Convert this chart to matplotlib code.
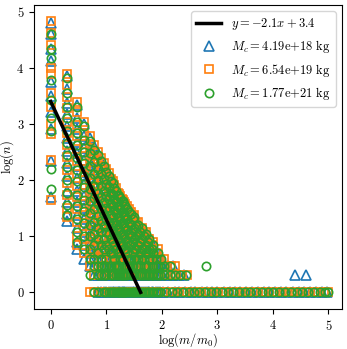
import numpy as np
import matplotlib
matplotlib.use('Agg')
import matplotlib.pyplot as plt

plt.rcParams['mathtext.fontset'] = 'cm'
plt.rcParams['font.family'] = 'DejaVu Serif'

# mass columns (in units of m0) that hold several counts per series
col_masses = [1, 2, 3, 4, 5, 6, 7, 8, 9, 10, 12, 14, 16, 19, 22, 26, 30, 35, 41, 48, 56, 66, 78, 92]

tri_counts = [
    [63000, 40000, 22000, 13000, 5600, 3200, 1600, 800, 220, 50],
    [7000, 4200, 2400, 1500, 900, 560, 330, 200, 120, 65, 40, 25, 19],
    [2200, 1300, 800, 480, 300, 180, 110, 65, 40, 24, 14, 8, 6],
    [1000, 600, 380, 230, 140, 85, 52, 32, 20, 12, 7, 4],
    [560, 340, 210, 130, 80, 50, 30, 18, 11, 7, 4, 3],
    [400, 240, 150, 90, 55, 34, 21, 13, 8, 5, 3, 2],
    [300, 180, 110, 70, 42, 26, 16, 10, 6, 4, 2, 1],
    [240, 145, 90, 55, 34, 21, 13, 8, 5, 3, 2, 1],
    [190, 115, 72, 44, 27, 17, 10, 6, 4, 2, 1],
    [150, 92, 57, 35, 22, 13, 8, 5, 3, 2, 1],
    [110, 70, 44, 28, 17, 11, 7, 4, 3, 2, 1],
    [78, 50, 32, 20, 13, 8, 5, 3, 2, 1],
    [58, 37, 24, 15, 10, 6, 4, 2, 1],
    [44, 28, 18, 12, 7, 5, 3, 2, 1],
    [36, 23, 15, 10, 6, 4, 2, 1],
    [28, 18, 12, 8, 5, 3, 2, 1],
    [21, 14, 9, 6, 4, 2, 1],
    [16, 11, 7, 5, 3, 2, 1],
    [12, 8, 6, 4, 2, 1],
    [10, 7, 5, 3, 2, 1],
    [8, 6, 4, 3, 2, 1],
    [6, 4, 3, 2, 1],
    [5, 3, 2, 1],
    [4, 3, 2, 1],
]

sq_counts = [
    [68000, 42000, 25000, 10000, 7800, 3600, 2000, 1000, 650, 230, 45],
    [7600, 5000, 3000, 1900, 1100, 700, 420, 260, 150, 90, 55, 32, 22],
    [2500, 1600, 950, 600, 360, 220, 130, 80, 50, 30, 18, 10, 7],
    [1100, 700, 440, 270, 160, 100, 60, 38, 24, 15, 9, 5],
    [600, 380, 240, 150, 90, 55, 34, 21, 13, 8, 5, 3, 1],
    [430, 270, 170, 100, 62, 38, 24, 15, 9, 6, 4, 2, 1],
    [320, 200, 125, 78, 48, 30, 18, 11, 7, 5, 3, 2],
    [250, 160, 100, 62, 38, 24, 15, 9, 6, 4, 3, 1],
    [200, 125, 78, 48, 30, 19, 12, 7, 5, 3, 2],
    [160, 100, 62, 38, 24, 15, 9, 6, 4, 2, 1],
    [105, 66, 42, 26, 16, 10, 6, 4, 2, 1],
    [82, 52, 33, 21, 14, 9, 6, 4, 2, 1],
    [60, 39, 25, 16, 10, 7, 4, 3, 1],
    [46, 30, 19, 12, 8, 5, 3, 2, 1],
    [38, 25, 16, 10, 7, 4, 3, 1],
    [30, 20, 13, 8, 5, 3, 2, 1],
    [22, 15, 10, 7, 4, 3, 1],
    [17, 12, 8, 5, 3, 2, 1],
    [13, 9, 6, 4, 3, 1],
    [11, 7, 5, 3, 2, 1],
    [9, 6, 4, 3, 2, 1],
    [7, 5, 3, 2, 1],
    [5, 4, 2, 1],
    [4, 2, 1],
]

circ_counts = [
    [40000, 22000, 15000, 6000, 2700, 1300, 750, 160, 70],
    [6500, 3600, 2000, 1250, 750, 450, 280, 170, 100, 60, 36, 24],
    [2000, 1100, 700, 420, 250, 150, 95, 55, 34, 20, 12, 8],
    [900, 520, 320, 200, 120, 75, 45, 28, 17, 10, 6],
    [500, 300, 180, 110, 70, 42, 26, 16, 10, 6, 4, 2],
    [350, 210, 130, 80, 48, 30, 18, 11, 7, 4, 3, 1],
    [280, 160, 100, 60, 37, 23, 14, 9, 5, 3, 2, 1],
    [220, 130, 80, 50, 30, 19, 12, 7, 4, 3, 2],
    [175, 105, 65, 40, 25, 15, 9, 6, 3, 2, 1],
    [140, 85, 52, 32, 20, 12, 7, 4, 3, 2, 1],
    [95, 60, 38, 24, 15, 9, 5, 3, 2, 1],
    [72, 46, 29, 18, 11, 7, 4, 3, 1],
    [54, 34, 22, 14, 9, 5, 3, 2, 1],
    [42, 27, 17, 11, 7, 4, 2, 1],
    [34, 22, 14, 9, 6, 3, 2, 1],
    [27, 17, 11, 7, 4, 3, 1],
    [20, 13, 8, 5, 3, 2, 1],
    [15, 10, 6, 4, 3, 1],
    [12, 8, 5, 3, 2, 1],
    [10, 6, 4, 3, 2, 1],
    [8, 5, 3, 2, 1],
    [6, 4, 2, 1],
    [4, 3, 2, 1],
    [3, 2, 1],
]

# in-between mass columns, fewer snapshots each
mid_masses = [11, 13, 15, 17, 18, 20, 21, 24, 28, 32, 38, 44, 51, 60, 70, 84]

tri_mid = [
    [128, 80, 48, 30, 19, 12, 6, 3, 1],
    [92, 58, 36, 23, 14, 9, 5, 2, 1],
    [68, 43, 27, 17, 11, 7, 4, 2, 1],
    [55, 34, 21, 14, 9, 5, 3, 1],
    [50, 31, 20, 13, 8, 4, 2, 1],
    [42, 26, 17, 11, 7, 4, 2, 1],
    [40, 25, 16, 10, 6, 3, 1],
    [32, 21, 13, 9, 5, 3, 1],
    [26, 17, 11, 7, 4, 2, 1],
    [23, 15, 10, 6, 4, 2, 1],
    [17, 11, 7, 5, 3, 1],
    [13, 9, 6, 4, 2, 1],
    [11, 8, 5, 3, 2, 1],
    [9, 6, 4, 3, 1],
    [7, 5, 3, 2, 1],
    [5, 4, 3, 2, 1],
]

sq_mid = [
    [135, 85, 52, 33, 20, 13, 7, 4, 2, 1],
    [96, 61, 38, 24, 15, 10, 6, 3, 1],
    [72, 46, 29, 18, 12, 7, 4, 2, 1],
    [57, 36, 23, 15, 9, 6, 3, 2, 1],
    [52, 33, 21, 13, 8, 5, 3, 1],
    [44, 28, 18, 12, 7, 4, 2, 1],
    [41, 26, 17, 11, 7, 4, 2, 1],
    [34, 22, 14, 9, 6, 3, 2, 1],
    [27, 18, 12, 8, 5, 3, 1],
    [24, 16, 10, 7, 4, 2, 1],
    [18, 12, 8, 5, 3, 2, 1],
    [14, 10, 6, 4, 3, 1],
    [12, 8, 5, 4, 2, 1],
    [9, 7, 5, 3, 2, 1],
    [8, 5, 4, 2, 1],
    [6, 4, 3, 2, 1],
]

circ_mid = [
    [120, 75, 46, 29, 18, 11, 6, 3, 1],
    [88, 55, 34, 22, 13, 8, 5, 2, 1],
    [64, 41, 26, 16, 10, 6, 3, 2, 1],
    [53, 33, 21, 13, 8, 5, 3, 1],
    [48, 30, 19, 12, 7, 4, 2, 1],
    [43, 27, 17, 11, 7, 4, 2, 1],
    [38, 24, 15, 10, 6, 3, 1],
    [31, 20, 13, 8, 5, 3, 2, 1],
    [25, 16, 10, 7, 4, 2, 1],
    [22, 14, 9, 6, 4, 2, 1],
    [16, 11, 7, 4, 3, 1],
    [14, 9, 6, 4, 2, 1],
    [11, 7, 5, 3, 2, 1],
    [9, 6, 4, 2, 1],
    [7, 5, 3, 2, 1],
    [5, 3, 2, 1],
]

# large masses with small counts
tri_tail_m = [100, 100, 130, 160, 105, 135, 160, 200, 250, 25000, 40000]
tri_tail_n = [4, 3, 3, 3, 2, 2, 2, 2, 2, 2, 2]
sq_tail_m = [110, 115, 145, 175, 120, 150, 180, 230, 290]
sq_tail_n = [4, 3, 3, 3, 2, 2, 2, 2, 2]
circ_tail_m = [95, 110, 140, 620, 110, 140, 170, 210, 270]
circ_tail_n = [4, 3, 3, 3, 2, 2, 2, 2, 2]

# masses seen exactly once
tri_ones = [105, 130, 170, 200, 260, 330, 400, 520, 650, 800, 1000, 1300, 1700, 2100, 2600,
            3300, 4200, 5400, 6800, 8500, 11000, 14000, 17500, 23000, 30000, 37000, 47000,
            60000, 75000, 96000]
sq_ones = [115, 145, 185, 230, 290, 360, 460, 580, 720, 900, 1150, 1450, 1850, 2300, 2900,
           3700, 4700, 6000, 7600, 9600, 12000, 15500, 19500, 25000, 32000, 41000, 52000,
           66000, 84000, 100000]
circ_ones = [120, 155, 190, 240, 310, 380, 470, 610, 760, 950, 1200, 1550, 1950, 2450, 3100,
             3900, 5000, 6300, 8000, 10000, 13000, 16500, 21000, 27000, 34000, 43000, 55000,
             70000, 88000, 98000]

fit_slope = -2.1
fit_icpt = 3.4

labels = [r'$M_c = 4.19\mathrm{e}{+}18\ \mathrm{kg}$',
          r'$M_c = 6.54\mathrm{e}{+}19\ \mathrm{kg}$',
          r'$M_c = 1.77\mathrm{e}{+}21\ \mathrm{kg}$']


def gather(counts, mid, tail_m, tail_n, ones):
    m, n = [], []
    for masses, cols in ((col_masses, counts), (mid_masses, mid)):
        for mass, cs in zip(masses, cols):
            for c in cs:
                m.append(mass)
                n.append(c)
    m += tail_m + ones
    n += tail_n + [1] * len(ones)
    return np.log10(m), np.log10(n)


fig = plt.figure(figsize=(3.47, 3.49), dpi=100)
ax = fig.add_axes([0.098, 0.114, 0.887, 0.872])

fx = np.array([0, -fit_icpt / fit_slope])
ax.plot(fx, fit_slope * fx + fit_icpt, color='k', lw=2.5, zorder=3,
        label=r'$y = -2.1x + 3.4$')

series = [(tri_counts, tri_mid, tri_tail_m, tri_tail_n, tri_ones, '^', 'C0', 6.5),
          (sq_counts, sq_mid, sq_tail_m, sq_tail_n, sq_ones, 's', 'C1', 6),
          (circ_counts, circ_mid, circ_tail_m, circ_tail_n, circ_ones, 'o', 'C2', 6)]
for (cnt, mid, tm, tn, on, mk, col, ms), lab in zip(series, labels):
    x, y = gather(cnt, mid, tm, tn, on)
    ax.plot(x, y, ls='none', marker=mk, mfc='none', mec=col, ms=ms, mew=1.2, label=lab)

ax.set_xlim(-0.30, 5.24)
ax.set_ylim(-0.30, 5.12)
ax.set_xticks(range(6))
ax.set_xticklabels([f'${i}$' for i in range(6)], fontsize=9)
ax.set_yticks(range(6))
ax.set_yticklabels([f'${i}$' for i in range(6)], fontsize=9)
ax.set_xlabel(r'$\log(m/m_0)$', fontsize=9, labelpad=-1.5)
ax.set_ylabel(r'$\log(n)$', fontsize=9, labelpad=0)
ax.legend(loc='upper right', fontsize=9)

fig.savefig('out.png', dpi=100)
